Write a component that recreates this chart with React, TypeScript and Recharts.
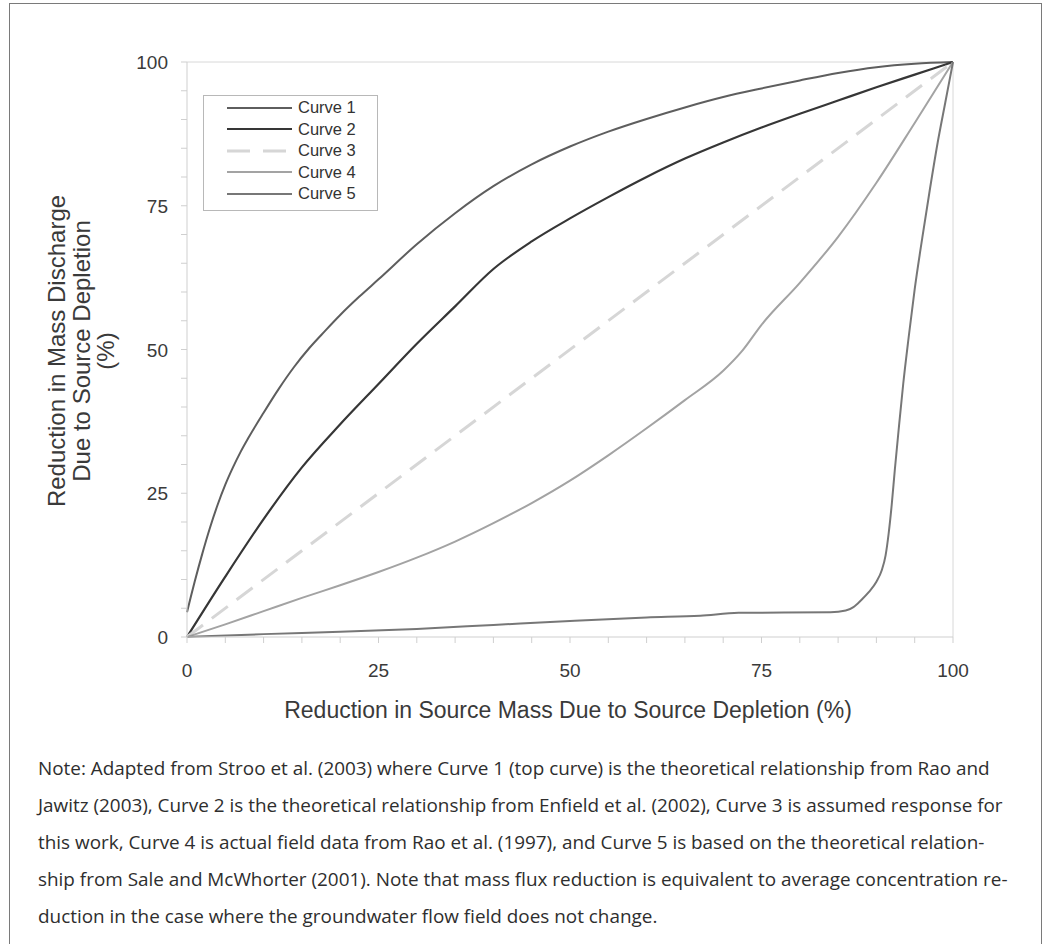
import { Legend, Line, LineChart, ReferenceLine, XAxis, YAxis } from 'recharts';

const FONT = '"Liberation Sans", Arial, sans-serif';
const NOTE_FONT = '"Open Sans", "Noto Sans", sans-serif';

// ticks every 5, labels only every 25
const axisTicks = [0, 5, 10, 15, 20, 25, 30, 35, 40, 45, 50, 55, 60, 65, 70, 75, 80, 85, 90, 95, 100];
const labelledTicks = [0, 25, 50, 75, 100];

// [source mass reduction %, mass discharge reduction %]
const curve1 = [
  [0, 4.3], [0.5, 7], [1, 9.6], [2, 14.5], [3, 19], [4, 23], [5, 26.5], [6, 29.5], [7, 32.2],
  [8, 34.6], [10, 39], [12, 43.2], [14, 47], [16, 50.3], [18, 53.2], [20, 56], [22.5, 59.2],
  [25, 62.2], [30, 68.3], [35, 73.7], [40, 78.4], [45, 82.2], [50, 85.3], [55, 87.9], [60, 90.1],
  [65, 92.1], [70, 93.9], [75, 95.4], [80, 96.8], [85, 98.1], [90, 99.1], [95, 99.7], [100, 100],
];
const curve2 = [
  [0, 0], [5, 10.5], [10, 20.5], [15, 29.5], [20, 37], [25, 44], [30, 51], [35, 57.5], [40, 64],
  [45, 68.8], [50, 72.8], [55, 76.5], [60, 80], [65, 83.2], [70, 86], [75, 88.6], [80, 91],
  [85, 93.3], [90, 95.6], [95, 97.8], [100, 100],
];
const curve3 = [[0, 0], [100, 100]];
const curve4 = [
  [0, 0], [5, 2.2], [10, 4.5], [15, 6.8], [20, 9], [25, 11.3], [30, 13.8], [35, 16.6], [40, 19.8],
  [45, 23.3], [50, 27.2], [55, 31.6], [60, 36.3], [65, 41.2], [70, 46.3], [72.5, 49.8], [75, 54.3],
  [80, 61.6], [85, 69.6], [90, 79], [95, 89.4], [100, 100],
];
const curve5 = [
  [0, 0], [10, 0.5], [20, 0.9], [30, 1.4], [40, 2.1], [50, 2.8], [60, 3.4], [67, 3.7], [72, 4.2],
  [84, 4.3], [86, 4.6], [87, 5.2], [88, 6.4], [89, 7.8], [90, 9.6], [90.7, 11.6], [91.2, 14.2],
  [91.6, 18], [92, 23], [92.4, 29], [92.9, 36], [93.5, 44], [94.2, 52], [95, 60.5], [96, 69.5],
  [97, 78], [98, 86], [99, 93], [100, 100],
];

const noteLines = [
  'Note: Adapted from Stroo et al. (2003) where Curve 1 (top curve) is the theoretical relationship from Rao and',
  'Jawitz (2003), Curve 2 is the theoretical relationship from Enfield et al. (2002), Curve 3 is assumed response for',
  'this work, Curve 4 is actual field data from Rao et al. (1997), and Curve 5 is based on the theoretical relation-',
  'ship from Sale and McWhorter (2001). Note that mass flux reduction is equivalent to average concentration re-',
  'duction in the case where the groundwater flow field does not change.',
];

const toPoints = (pairs: number[][]) => pairs.map(([x, y]) => ({ x, y }));

const curves = [
  { name: 'Curve 1', data: toPoints(curve1), color: '#5e5e5e', width: 2, dash: undefined, legendDash: undefined },
  { name: 'Curve 2', data: toPoints(curve2), color: '#363636', width: 2.2, dash: undefined, legendDash: undefined },
  { name: 'Curve 3', data: toPoints(curve3), color: '#d6d6d6', width: 3, dash: '20 11', legendDash: '23 13' },
  { name: 'Curve 4', data: toPoints(curve4), color: '#a3a3a3', width: 2, dash: undefined, legendDash: undefined },
  { name: 'Curve 5', data: toPoints(curve5), color: '#777777', width: 2, dash: undefined, legendDash: undefined },
];

function XTick(props: any) {
  const { x, y, payload } = props;
  if (!labelledTicks.includes(payload.value)) return <g />;
  return (
    <text x={x} y={y} dy={20} textAnchor="middle" fontSize={19} fill="#3a3a3a" fontFamily={FONT}>
      {payload.value}
    </text>
  );
}

function YTick(props: any) {
  const { x, y, payload } = props;
  if (!labelledTicks.includes(payload.value)) return <g />;
  return (
    <text x={x} y={y} dy={7} textAnchor="end" fontSize={19} fill="#3a3a3a" fontFamily={FONT}>
      {payload.value}
    </text>
  );
}

function YTitle() {
  const lines = ['Reduction in Mass Discharge', 'Due to Source Depletion', '(%)'];
  const baselines = [65, 90, 114];
  return (
    <g>
      {lines.map((t, i) => (
        <text
          key={t}
          x={baselines[i]}
          y={351}
          transform={`rotate(-90, ${baselines[i]}, 351)`}
          textAnchor="middle"
          fontSize={24}
          fill="#3a3a3a"
          fontFamily={FONT}
        >
          {t}
        </text>
      ))}
    </g>
  );
}

function XTitle() {
  return (
    <text x={568} y={718} textAnchor="middle" fontSize={23} fill="#3a3a3a" fontFamily={FONT}>
      Reduction in Source Mass Due to Source Depletion (%)
    </text>
  );
}

function LegendBox() {
  return (
    <div
      style={{
        width: 175,
        height: 116,
        border: '1px solid #b8b8b8',
        background: '#fff',
        boxSizing: 'border-box',
        paddingTop: 1,
      }}
    >
      {curves.map((c) => (
        <div key={c.name} style={{ display: 'flex', alignItems: 'center', height: 21.5 }}>
          <svg width={88} height={10} style={{ display: 'block' }}>
            <line
              x1={23}
              x2={c.legendDash ? 84 : 88}
              y1={5}
              y2={5}
              stroke={c.color}
              strokeWidth={c.width}
              strokeDasharray={c.legendDash}
            />
          </svg>
          <span style={{ marginLeft: 6, fontSize: 16.5, color: '#333', fontFamily: FONT, lineHeight: '21px' }}>
            {c.name}
          </span>
        </div>
      ))}
    </div>
  );
}

export default function App() {
  return (
    <div style={{ position: 'absolute', left: 0, top: 0, width: 1047, height: 944, overflow: 'hidden', background: '#fff' }}>
      <div
        style={{
          position: 'absolute',
          left: 9,
          top: 3,
          width: 1033,
          height: 1000,
          border: '1.5px solid #7a7a7a',
          boxSizing: 'border-box',
        }}
      />
      <div style={{ position: 'absolute', left: 0, top: 0 }}>
        <LineChart width={1047} height={740} margin={{ top: 62, right: 94, left: 127, bottom: 73 }}>
          <XAxis
            type="number"
            dataKey="x"
            domain={[0, 100]}
            ticks={axisTicks}
            interval={0}
            height={30}
            tickSize={6}
            tickMargin={14}
            stroke="#cfcfcf"
            tick={<XTick />}
            label={<XTitle />}
            allowDuplicatedCategory={false}
          />
          <YAxis
            type="number"
            dataKey="y"
            domain={[0, 100]}
            ticks={axisTicks}
            interval={0}
            width={60}
            tickSize={6}
            tickMargin={13}
            stroke="#cfcfcf"
            tick={<YTick />}
            label={<YTitle />}
          />
          <ReferenceLine y={100} stroke="#d8d8d8" strokeWidth={1} />
          <ReferenceLine x={100} stroke="#d8d8d8" strokeWidth={1} />
          <Legend
            layout="vertical"
            align="center"
            verticalAlign="middle"
            wrapperStyle={{ left: 203, top: 95, width: 175, height: 116 }}
            content={<LegendBox />}
          />
          {curves.map((c) => (
            <Line
              key={c.name}
              name={c.name}
              data={c.data}
              dataKey="y"
              type="monotone"
              stroke={c.color}
              strokeWidth={c.width}
              strokeDasharray={c.dash}
              dot={false}
              activeDot={false}
              isAnimationActive={false}
            />
          ))}
        </LineChart>
      </div>
      <div
        style={{
          position: 'absolute',
          left: 38,
          top: 750,
          fontFamily: NOTE_FONT,
          fontSize: 18.9,
          lineHeight: '37px',
          color: '#2e2e2e',
          whiteSpace: 'nowrap',
        }}
      >
        {noteLines.map((l) => (
          <div key={l}>{l}</div>
        ))}
      </div>
    </div>
  );
}
